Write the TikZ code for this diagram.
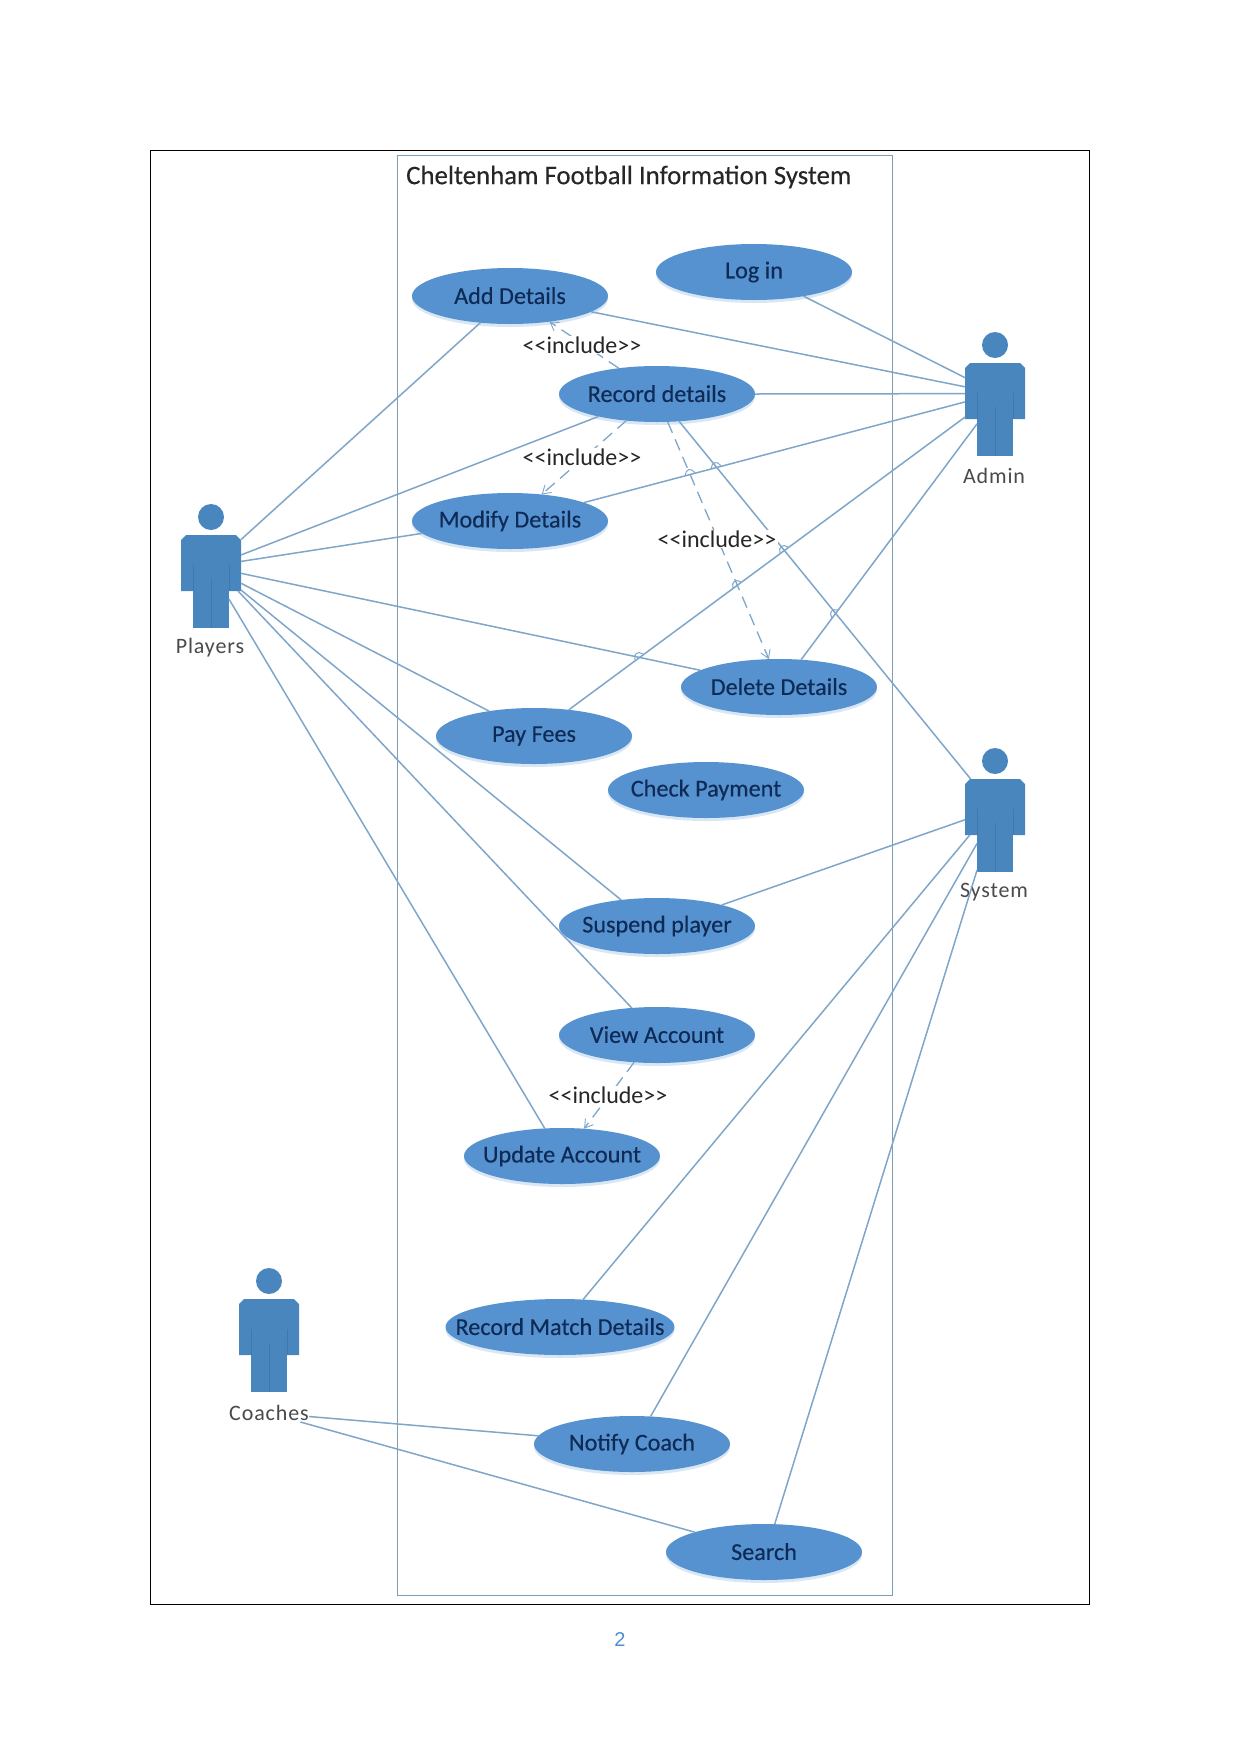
\documentclass[tikz,border=0pt]{standalone}
\usepackage{fontspec}
\setmainfont{Carlito}
\newfontfamily\pagefont{Liberation Sans}
\newfontfamily\casefont[FakeBold=0.25]{Carlito}
\newfontfamily\actorfont[LetterSpace=4]{Carlito}
\usetikzlibrary{shapes.geometric,arrows.meta,shadows}
\definecolor{usecase}{HTML}{5592CF}
\definecolor{usecasetext}{HTML}{0E2A55}
\definecolor{actorblue}{HTML}{4A86BE}
\definecolor{actorline}{HTML}{3F78AC}
\definecolor{assoc}{HTML}{7FA6C9}
\definecolor{sysframe}{HTML}{7F9DB5}
\definecolor{labelgrey}{HTML}{4A4A4A}
\definecolor{pageblue}{HTML}{4A8FD0}
\tikzset{
  usecasenode/.style={ellipse,fill=usecase,inner sep=0pt,outer sep=0pt,
    minimum width=196,minimum height=56,text=usecasetext,
    font=\casefont\fontsize{24.2}{28}\selectfont,
    drop shadow={shadow xshift=0pt,shadow yshift=-3pt,opacity=.22,fill=usecase}},
  assocline/.style={draw=assoc,line width=1.5pt},
  linehop/.style={draw=assoc,line width=1pt},
  includeline/.style={draw=assoc,line width=1.3pt,dashed,dash pattern=on 12pt off 7pt,
    -{Straight Barb[length=8pt,width=10pt,line width=.9pt]}},
  includelabel/.style={fill=white,inner xsep=2pt,inner ysep=1pt,text=black!85,
    font=\fontsize{24}{28}\selectfont},
  actorhead/.style={circle,fill=actorblue,minimum size=26,inner sep=0pt,outer sep=0pt},
  actortorso/.style={rectangle,minimum width=60,minimum height=56,inner sep=0pt,outer sep=0pt},
  actorlegs/.style={rectangle,fill=actorblue,minimum width=36,minimum height=37,inner sep=0pt,outer sep=0pt},
  actorlabel/.style={inner sep=0pt,outer sep=0pt,minimum width=80,minimum height=18,text=labelgrey,
    font=\actorfont\fontsize{22}{26}\selectfont},
  figureline/.style={draw=actorline,line width=.6pt},
}
% Zero-width box: the ellipse keeps its fixed size whatever the caption length.
\newcommand{\uc}[1]{\raisebox{1pt}{\makebox[0pt][c]{#1}}}
% Stick-figure actor: head, torso and legs are separate nodes so connectors can attach to each part.
\newcommand{\umlactor}[3]{% name, x of head, y of head
  \node[actorhead] (#1head) at (#2,#3) {};
  \node[actorlegs] (#1legs) at (#2,#3+92.5) {};
  \node[actortorso] (#1torso) at (#2,#3+46) {};
  \fill[actorblue] (#2-30,#3+74) -- (#2-30,#3+23) -- (#2-25,#3+18) -- (#2+25,#3+18)
    -- (#2+30,#3+23) -- (#2+30,#3+74) -- cycle;
  \draw[figureline] (#2,#3+62) -- (#2,#3+111);
  \draw[figureline] (#2-18,#3+48) -- (#2-18,#3+74);
  \draw[figureline] (#2+18,#3+48) -- (#2+18,#3+74);
}
% Small bridge where one association passes over another.
\newcommand{\hopat}[3]{%
  \draw[linehop,shift={(#1,#2)},rotate=#3] (-5,0) .. controls (-3,-6) and (3,-6) .. (5,0);
}
\begin{document}
\begin{tikzpicture}[x=1pt,y=-1pt]
\useasboundingbox (0,0) rectangle (1241,1754);
\fill[white] (0,0) rectangle (1241,1754);

% Page frame and system boundary
\node[draw=black,line width=1pt,minimum width=939,minimum height=1454,inner sep=0pt,anchor=north west] (page) at (150,150) {};
\node[draw=sysframe,line width=1.4pt,minimum width=495,minimum height=1440,inner sep=0pt,anchor=north west] (system) at (397,155) {};
\node[anchor=west,inner sep=0pt,text=black!85,font=\casefont\fontsize{26.8}{30}\selectfont] (title) at (406,177) {Cheltenham Football Information System};

% Actors
\umlactor{pl}{211}{517}
\umlactor{ad}{995}{345}
\umlactor{sy}{995}{761}
\umlactor{co}{269}{1281}
\node[actorlabel] (plname) at (210,648) {Players};
\node[actorlabel] (adname) at (994,476) {Admin};
\node[actorlabel] (syname) at (994,892) {System};
\node[actorlabel] (coname) at (269,1413) {Coaches};

% Use cases
\node[usecasenode] (add) at (510,296) {\uc{Add Details}};
\node[usecasenode] (login) at (754,272) {\uc{Log in}};
\node[usecasenode] (record) at (657,394) {\uc{Record details}};
\node[usecasenode] (modify) at (510,521) {\uc{Modify Details}};
\node[usecasenode] (delete) at (779,687) {\uc{Delete Details}};
\node[usecasenode] (pay) at (534,736) {\uc{Pay Fees}};
\node[usecasenode] (check) at (706,790) {\uc{Check Payment}};
\node[usecasenode] (suspend) at (657,926) {\uc{Suspend player}};
\node[usecasenode] (view) at (657,1035) {\uc{View Account}};
\node[usecasenode] (update) at (562,1156) {\uc{Update Account}};
\node[usecasenode,minimum width=229] (match) at (560,1327) {\uc{Record Match Details}};
\node[usecasenode] (notify) at (632,1444) {\uc{Notify Coach}};
\node[usecasenode] (search) at (764,1552) {\uc{Search}};

% Associations: Players
\draw[assocline] (pltorso.38) -- (add.222);
\draw[assocline] (pltorso.15.8) -- (record.201.2);
\draw[assocline] (pltorso.3) -- (modify.188.3);
\draw[assocline] (pltorso.-19.3) -- (delete.168.1);
\draw[assocline] (pltorso.-34.3) -- (pay.151.4);
\draw[assocline] (pltorso.-42.5) -- (suspend.144.5);
\draw[assocline] (pltorso.-46.6) -- (view.133);
\draw[assocline] (pllegs.30.3) -- (update.122.2);

% Associations: Admin
\draw[assocline] (adtorso.156.2) -- (login.-26.1);
\draw[assocline] (adtorso.172.3) -- (add.-11.4);
\draw[assocline] (adtorso.185.8) -- (record.0);
\draw[assocline] (adtorso.200.4) -- (modify.14.7);
\draw[assocline] (adtorso.221.4) -- (pay.37.1);
\draw[assocline] (adlegs.143.1) -- (delete.51.6);

% Associations: System
\draw[assocline] (sytorso.131.2) -- (record.-51.8);
\draw[assocline] (sytorso.203.8) -- (suspend.18.4);
\draw[assocline] (sytorso.228.8) -- (match.50.4);
\draw[assocline] (sylegs.151) -- (notify.56.8);
\draw[assocline] (sylegs.223.4) -- (search.69.2);

% Associations: Coaches
\draw[assocline] (coname.-5.7) -- (notify.175.1);
\draw[assocline] (coname.-16.2) -- (search.164);

% Line bridges at crossings
\hopat{690}{474}{15}
\hopat{716}{467}{15}
\hopat{737}{585}{36}
\hopat{784}{550}{36}
\hopat{835}{614}{54}
\hopat{639}{657}{36}

% Include relations
\draw[includeline] (record.146) -- (add.-33.4);
\draw[includeline] (record.221.2) -- (modify.40.3);
\draw[includeline] (record.-69.2) -- (delete.110.8);
\draw[includeline] (view.230.6) -- (update.51.8);
\node[includelabel] (inca) at (582,345) {<{}<include>{}>};
\node[includelabel] (incb) at (582,457) {<{}<include>{}>};
\node[includelabel] (incc) at (717,539) {<{}<include>{}>};
\node[includelabel] (incd) at (608,1095) {<{}<include>{}>};

\node[text=pageblue,inner sep=0pt,font=\pagefont\fontsize{20}{24}\selectfont] (pagenum) at (620,1639) {2};
\end{tikzpicture}
\end{document}
